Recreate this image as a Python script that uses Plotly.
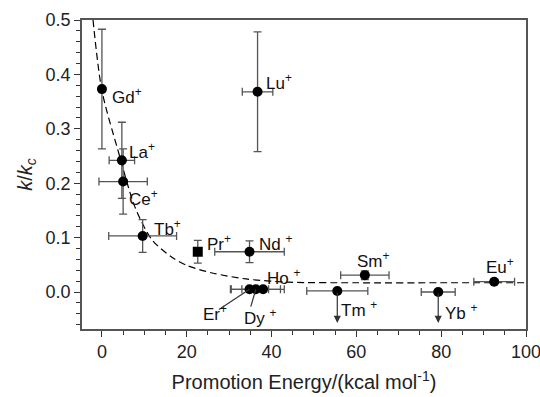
import plotly.graph_objects as go

# ---- data ----
ions = ["Gd", "La", "Ce", "Tb", "Pr", "Nd", "Er", "Dy", "Ho", "Tm", "Sm", "Yb", "Eu", "Lu"]
energy = [0.0, 4.7, 5.0, 9.6, 22.6, 34.8, 34.8, 36.3, 38.0, 55.5, 62.0, 79.3, 92.5, 36.7]
k_ratio = [0.373, 0.242, 0.203, 0.103, 0.074, 0.074, 0.005, 0.005, 0.005, 0.002, 0.031, 0.000, 0.019, 0.368]
x_err = [0.0, 3.0, 5.7, 8.0, 0.0, 8.2, 4.5, 5.8, 5.0, 7.2, 5.7, 4.0, 4.8, 3.6]
y_err = [0.11, 0.07, 0.06, 0.03, 0.021, 0.02, 0.0, 0.0, 0.0, 0.0, 0.008, 0.0, 0.004, 0.11]
marker_symbol = ["circle"] * 4 + ["square"] + ["circle"] * 9

# upper limits (arrows)
limit_ions = ["Tm", "Yb"]
limit_to = -0.057

# dashed fit curve
fit_x = [-2.1, 0.0, 3.8, 7.8, 11.8, 16.5, 20.0, 26.0, 34.0, 44.0, 60.0, 80.0, 100.0]
fit_y = [0.50, 0.37, 0.26, 0.156, 0.096, 0.064, 0.049, 0.035, 0.024, 0.018, 0.017, 0.017, 0.017]

# label positions (left edge, vertical centre) in data units
label_x = [1.9, 5.9, 6.0, 11.8, 24.4, 36.6, 23.4, 33.0, 38.4, 56.0, 59.6, 80.5, 90.2, 38.3]
label_y = [0.360, 0.259, 0.173, 0.118, 0.090, 0.090, -0.039, -0.046, 0.028, -0.031, 0.059, -0.037, 0.047, 0.386]
label_space = {"Nd", "Dy", "Ho", "Tm", "Yb"}

# leader lines for Er and Dy (from label to point)
leader = {"Er": (27.6, -0.032), "Dy": (35.1, -0.027)}

FONT = "Liberation Sans, Arial, sans-serif"

fig = go.Figure()

fig.add_trace(go.Scatter(
    x=fit_x, y=fit_y, mode="lines",
    line=dict(color="black", dash="7px,4px", width=1.2, shape="spline", smoothing=0.8),
    hoverinfo="skip", showlegend=False))

fig.add_trace(go.Scatter(
    x=energy, y=k_ratio, mode="markers",
    marker=dict(color="black", size=10, symbol=marker_symbol),
    error_x=dict(type="data", array=x_err, visible=True, color="#555", thickness=1.3, width=4),
    error_y=dict(type="data", array=y_err, visible=True, color="#555", thickness=1.3, width=4),
    showlegend=False))

annotations = []
for name, lx, ly in zip(ions, label_x, label_y):
    sp = " " if name in label_space else ""
    annotations.append(dict(
        x=lx, y=ly, xref="x", yref="y", text=f"{name}{sp}<sup>+</sup>", showarrow=False,
        xanchor="left", yanchor="middle", font=dict(family=FONT, size=17, color="#111")))

for name in limit_ions:
    i = ions.index(name)
    annotations.append(dict(
        x=energy[i], y=limit_to, ax=energy[i], ay=k_ratio[i], xref="x", yref="y", axref="x", ayref="y",
        text="", showarrow=True, arrowhead=2, arrowsize=1.2, arrowwidth=1.2, arrowcolor="#333"))

shapes = []
for name, (lx, ly) in leader.items():
    i = ions.index(name)
    shapes.append(dict(type="line", xref="x", yref="y", x0=lx, y0=ly, x1=energy[i], y1=k_ratio[i],
                       line=dict(color="#333", width=1.2)))

axis_common = dict(
    showgrid=False, zeroline=False, showline=True, linecolor="#555", linewidth=1.5, mirror=True,
    ticks="outside", tickcolor="#333", ticklen=6, tickwidth=1.2,
    tickfont=dict(family=FONT, size=18, color="#222"),
)

fig.update_layout(
    width=540, height=397, margin=dict(l=82, r=14, t=20, b=68, autoexpand=False),
    paper_bgcolor="white", plot_bgcolor="white",
    annotations=annotations, shapes=shapes,
    xaxis=dict(range=[-4.7, 100], tickvals=[0, 20, 40, 60, 80, 100], ticklabeloverflow="allow",
               minor=dict(dtick=5, tick0=0, ticks="outside", ticklen=4, tickcolor="#333"),
               title=dict(text="Promotion Energy/(kcal mol<sup>-1</sup>)",
                          font=dict(family=FONT, size=20, color="#222"), standoff=14),
               **axis_common),
    yaxis=dict(range=[-0.068, 0.5], tickvals=[0, 0.1, 0.2, 0.3, 0.4, 0.5], tickformat=".1f",
               minor=dict(dtick=0.02, tick0=0, ticks="outside", ticklen=4, tickcolor="#333"),
               title=dict(text="<i>k</i>/<i>k</i><sub><i>c</i></sub>",
                          font=dict(family=FONT, size=20, color="#222"), standoff=8),
               **axis_common),
)

fig.write_html("out.html")
